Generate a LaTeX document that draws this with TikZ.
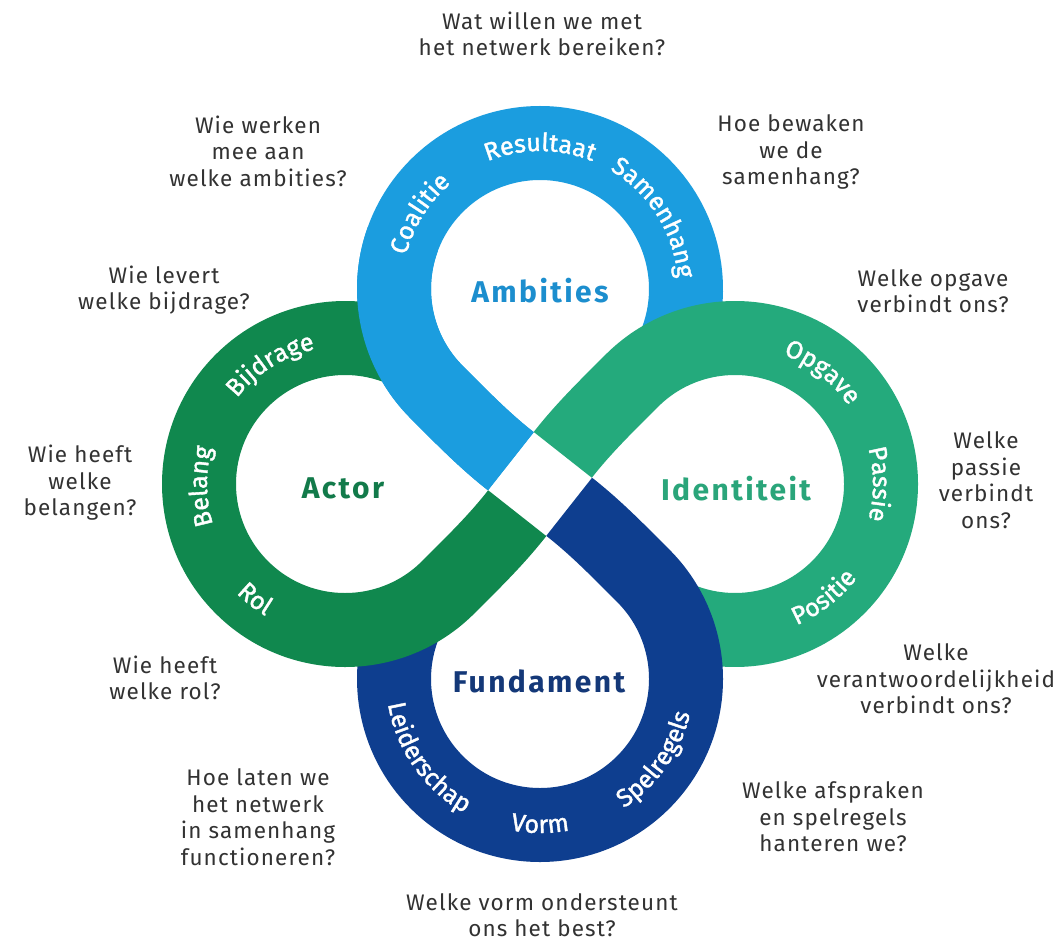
\documentclass[tikz,border=0pt]{standalone}
\usepackage{fontspec}
\setmainfont{Fira Sans}[LetterSpace=5]
\newfontfamily\ringfam{Fira Sans}[LetterSpace=10, FakeBold=1.5]
\newfontfamily\hubfam{Fira Sans}[LetterSpace=8]
\usetikzlibrary{calc,decorations.text}
\definecolor{cAmb}{RGB}{27,157,223}
\definecolor{cIde}{RGB}{36,170,124}
\definecolor{cAct}{RGB}{16,136,78}
\definecolor{cFun}{RGB}{14,62,143}
\definecolor{tAmb}{RGB}{28,142,206}
\definecolor{tAct}{RGB}{18,122,74}
\definecolor{tIde}{RGB}{42,165,122}
\definecolor{tFun}{RGB}{20,56,120}
\definecolor{qtext}{RGB}{50,50,50}
\newcommand\ringfont{\ringfam\fontsize{25}{28}\selectfont}
\newcommand\petal[5]{%
  \pgfmathsetmacro\ha{#3-52}%
  \pgfmathsetmacro\qa{#3-135}%
  \pgfmathsetmacro\qh{#3+135}%
  \coordinate (#5s) at ($(O)+(\ha:37)$);
  \coordinate (#5c1) at ($(O)+(\ha:71)$);
  \coordinate (#5q) at ($(#2)+(\qa:146)$);
  \coordinate (#5c2) at ($(#5q)+(\qh:34)$);
  \draw[band,#1] (#5s) .. controls (#5c1) and (#5c2) .. (#5q)
     arc[start angle=\qa, end angle=#4, radius=146];
}
\newcommand\ringcw[3]{%
  \pgfmathsetmacro\ra{#2-58}\pgfmathsetmacro\rb{#2+58}%
  \path[ringlabel={#3}] ($(#1)+(\ra:138)$) arc[start angle=\ra, end angle=\rb, radius=138];
}
\newcommand\ringccw[3]{%
  \pgfmathsetmacro\ra{#2+58}\pgfmathsetmacro\rb{#2-58}%
  \path[ringlabel={#3}] ($(#1)+(\ra:154)$) arc[start angle=\ra, end angle=\rb, radius=154];
}
\begin{document}
\begin{tikzpicture}[x=1pt,y=-1pt,
  band/.style={line width=74pt},
  question/.style={align=center, text=qtext, inner sep=0pt, font=\fontsize{22.5}{26.5}\selectfont},
  hub/.style={inner sep=0pt, font=\hubfam\fontsize{30}{32}\selectfont\bfseries},
  ringlabel/.style={decorate, decoration={text along path, text align=center, text color=white, text={|\ringfont|#1}}}
]
\useasboundingbox[fill=white] (0,0) rectangle (1064,944);
\coordinate (O) at (540,484);
\coordinate (A) at (540,289);
\coordinate (I) at (735,484);
\coordinate (F) at (540,679);
\coordinate (C) at (345,484);

\petal{cAmb}{A}{270}{385}{pa}
\petal{cIde}{I}{360}{475}{pi}
\petal{cFun}{F}{90}{205}{pf}
\petal{cAct}{C}{180}{295}{pc}
\draw[band,cAmb] (pas) .. controls (pac1) and (pac2) .. (paq) arc[start angle=135, end angle=200, radius=146];

% ring labels
\ringcw{A}{212}{Coalitie}
\ringcw{A}{270}{Resultaat}
\ringcw{A}{328}{Samenhang}
\ringcw{C}{238}{Bijdrage}
\ringcw{C}{179}{Belang}
\ringccw{C}{128}{Rol}
\ringcw{I}{308}{Opgave}
\ringcw{I}{360}{Passie}
\ringccw{I}{52}{Positie}
\ringccw{F}{145}{Leiderschap}
\ringccw{F}{90}{Vorm}
\ringccw{F}{35}{Spelregels}

% hub labels
\node[hub,text=tAmb] (hamb) at (540,291) {Ambities};
\node[hub,text=tAct] (hact) at (343,488) {Actor};
\node[hub,text=tIde] (hide) at (736,489) {Identiteit};
\node[hub,text=tFun] (hfun) at (539,681) {Fundament};

% questions
\node[question] (q1) at (542,34) {Wat willen we met\\het netwerk bereiken?};
\node[question] (q2) at (258,151) {Wie werken\\mee aan\\welke ambities?};
\node[question] (q3) at (791,152) {Hoe bewaken\\we de\\samenhang?};
\node[question] (q4) at (164,290) {Wie levert\\welke bijdrage?};
\node[question] (q5) at (933,291) {Welke opgave\\verbindt ons?};
\node[question] (q6) at (80,483) {Wie heeft\\welke\\belangen?};
\node[question] (q7) at (986,480) {Welke\\passie\\verbindt\\ons?};
\node[question] (q8) at (165,678) {Wie heeft\\welke rol?};
\node[question] (q9) at (936,679) {Welke\\verantwoordelijkheid\\verbindt ons?};
\node[question] (q10) at (258,817) {Hoe laten we\\het netwerk\\in samenhang\\functioneren?};
\node[question] (q11) at (833,817) {Welke afspraken\\en spelregels\\hanteren we?};
\node[question] (q12) at (542,915) {Welke vorm ondersteunt\\ons het best?};
\end{tikzpicture}
\end{document}
